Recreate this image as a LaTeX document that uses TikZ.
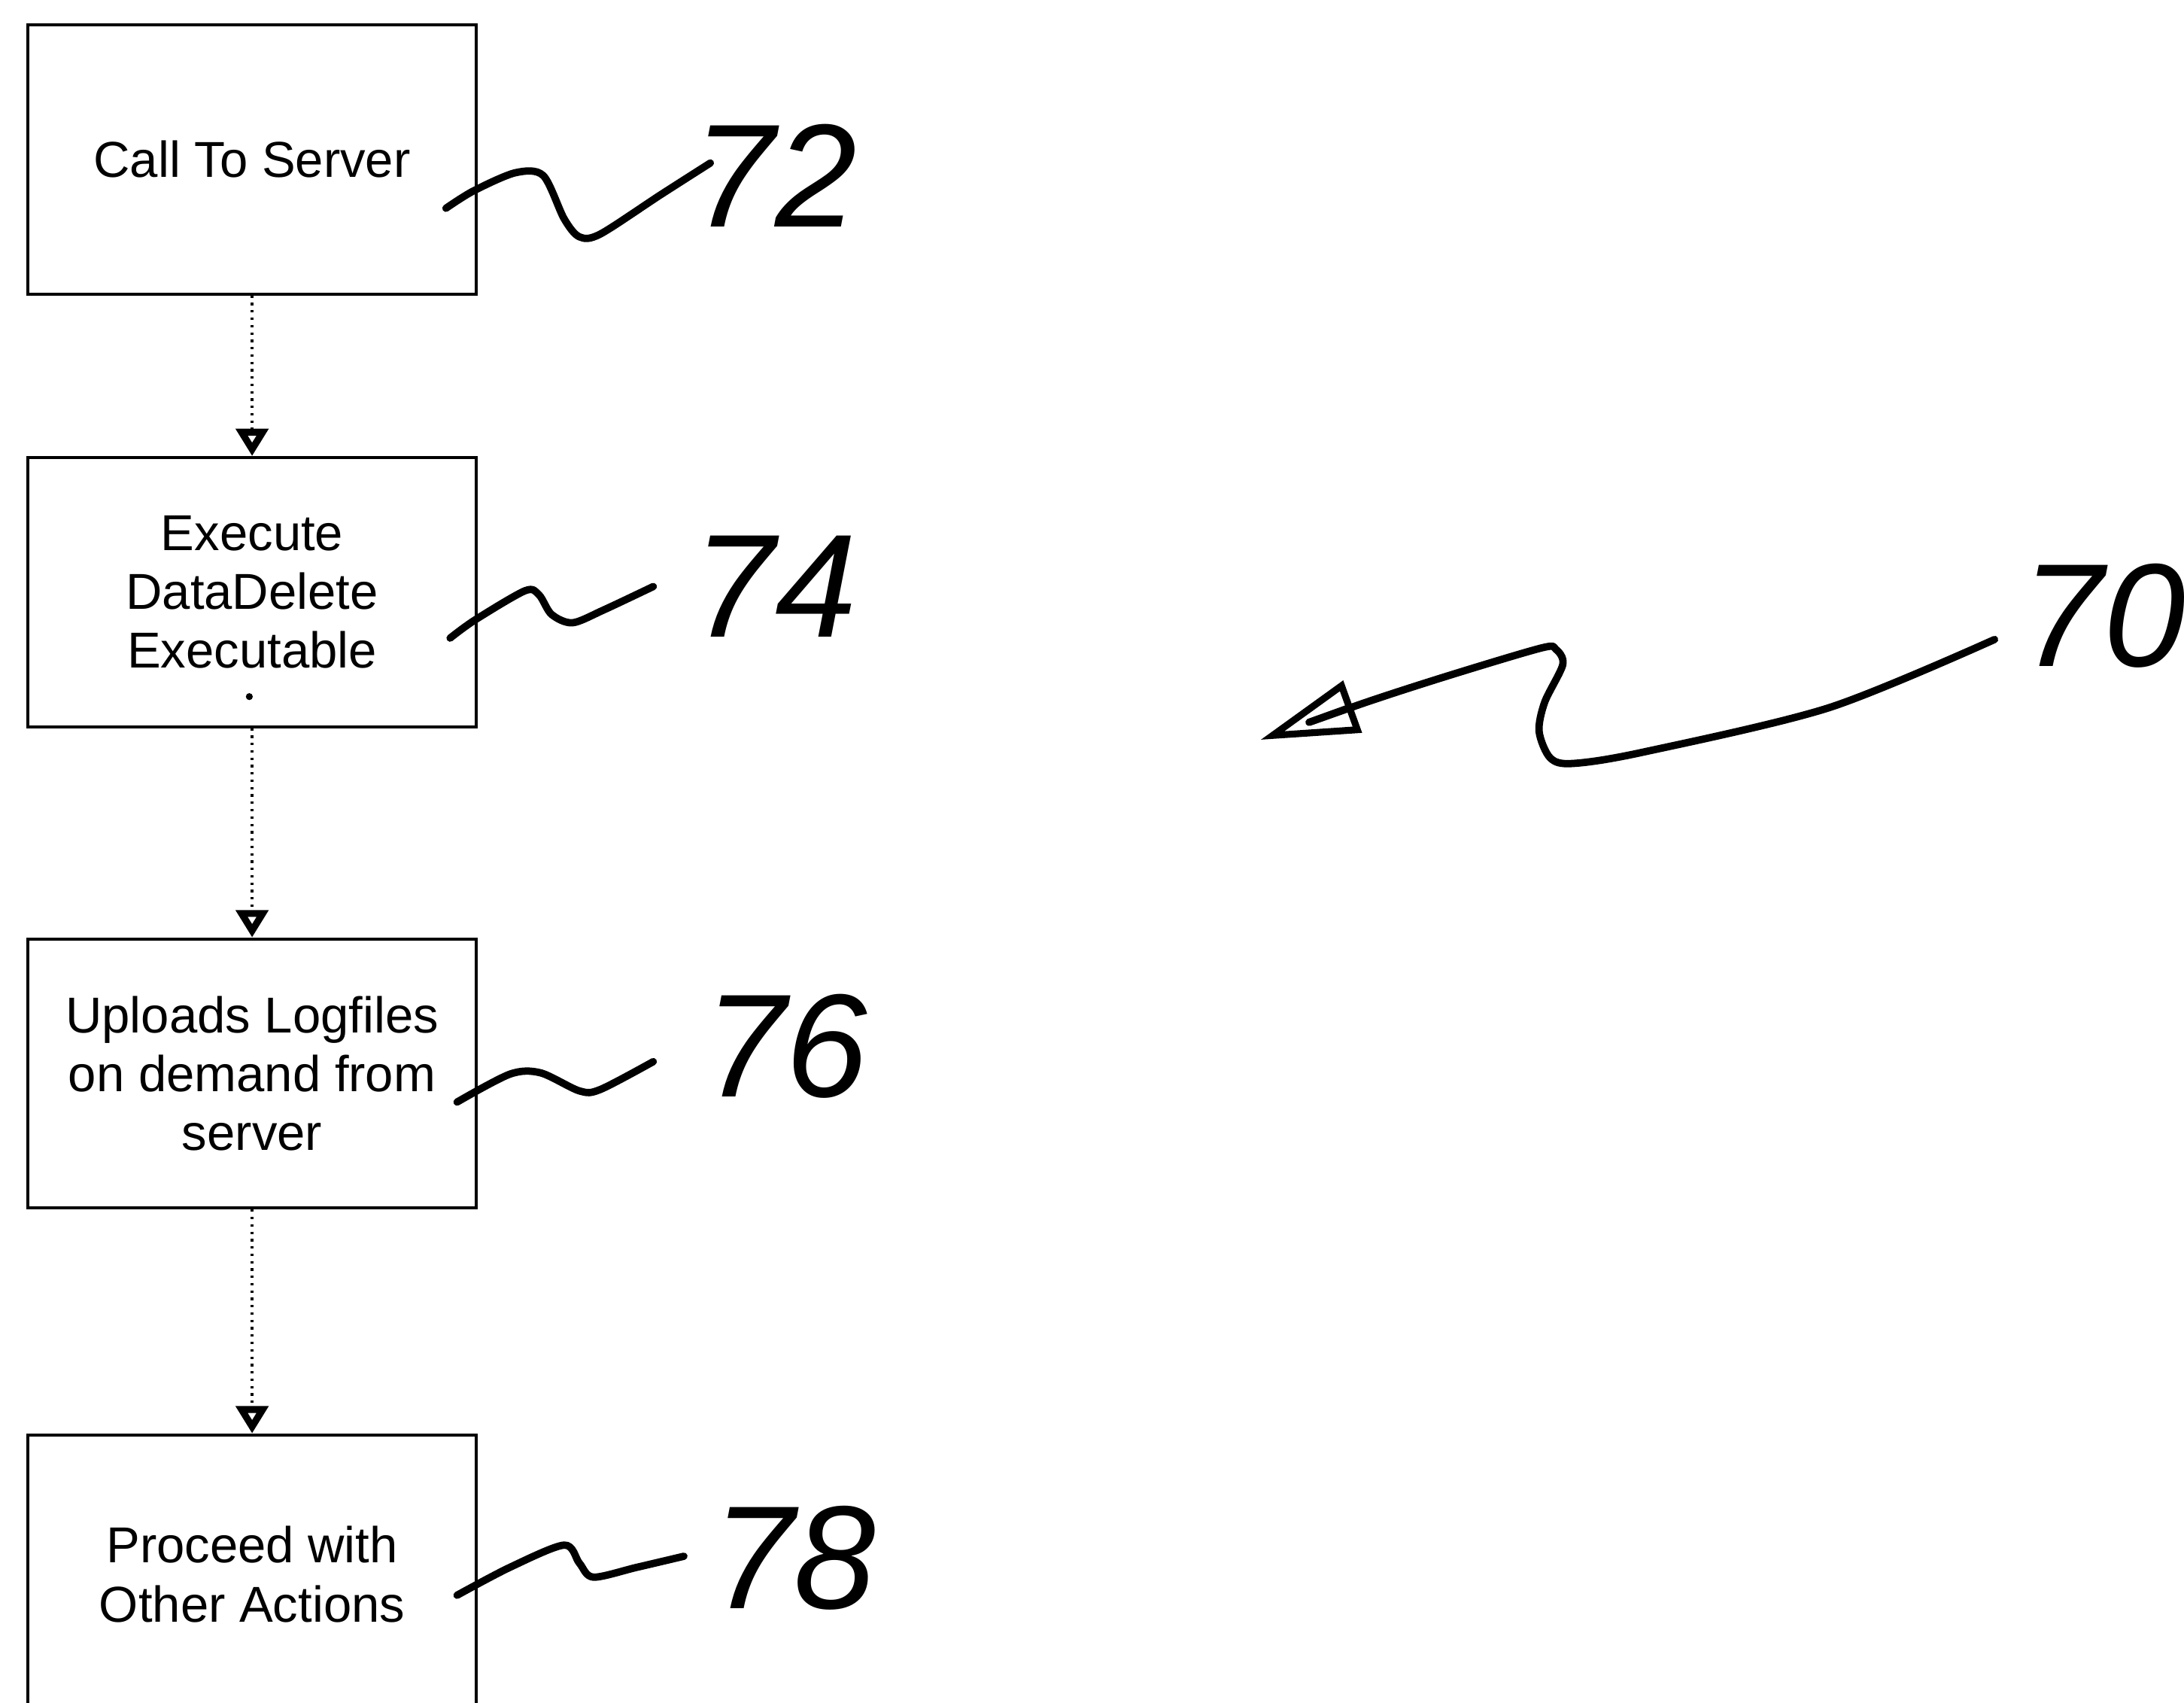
\documentclass[tikz,border=0pt]{standalone}
\usepackage{fontspec}
\setmainfont{Liberation Sans}
\usetikzlibrary{arrows.meta}

\begin{document}
\begin{tikzpicture}[x=.01cm,y=-.01cm,
  box/.style={draw,line width=.6pt,minimum width=3.22cm,minimum height=1.93cm,
    inner sep=0pt,align=center,font=\fontsize{10.3}{12}\selectfont},
  flow/.style={densely dotted,line width=.5pt,
    -{Triangle[open,length=5.6pt,width=6.4pt,line width=1.6pt]}},
  lead/.style={line width=1.5pt,line cap=round,line join=round},
  refnum/.style={anchor=west,inner sep=0pt,font=\fontsize{30}{30}\selectfont\itshape}]
 \useasboundingbox (0,0) rectangle (1568,1222);
 \node[box] (call) at (181,114.5) {Call To Server};
 \node[box] (exec) at (181,425) {Execute\\DataDelete\\Executable};
 \node[box] (upload) at (181,770.5) {Uploads Logfiles\\on demand from\\server};
 \node[box,minimum height=2cm] (proceed) at (181,1130) {Proceed with\\Other Actions};
 \fill (179,500) circle[radius=2.5];
 \draw[flow] (call) -- (exec);
 \draw[flow] (exec) -- (upload);
 \draw[flow] (upload) -- (proceed);
 \node[refnum] (n72) at (497,126) {72};
 \node[refnum] (n74) at (497,421) {74};
 \node[refnum] (n76) at (505,751) {76};
 \node[refnum] (n78) at (511,1118) {78};
 \node[refnum] (n70) at (1451,442) {70};
 \coordinate (tip70) at (905,531);
 \draw[lead] plot[smooth,tension=.5] coordinates {([shift={(-23,35)}]call.east)
   (340,137) (370,124) (390,126) (405,157) (416,170) (431,168) (474,140)
   ([shift={(13,-9)}]n72.west)};
 \draw[lead] plot[smooth,tension=.5] coordinates {([shift={(-20,33)}]exec.east)
   (341,445) (377,424) (387,427) (396,441) (411,447) (433,438)
   ([shift={(-28,0)}]n74.west)};
 \draw[lead] plot[smooth,tension=.5] coordinates {([shift={(-15,20.5)}]upload.east)
   (366,771) (388,770) (416,783) (431,782) ([shift={(-36,11)}]n76.west)};
 \draw[lead] plot[smooth,tension=.5] coordinates {([shift={(-15,15)}]proceed.east)
   (366,1125) (405,1109) (416,1122) (426,1132) (457,1125)
   ([shift={(-20,-1)}]n78.west)};
 \draw[lead,-{Triangle[open,length=20pt,width=11pt,line width=1.4pt]}]
   plot[smooth,tension=.5] coordinates {([shift={(-19,17)}]n70.west)
   (1313,508) (1179,540) (1129,548) (1113,544) (1105,525) (1109,504)
   (1122,477) (1117,466) (1107,465) (1043,484) (981,504) (tip70)};
\end{tikzpicture}
\end{document}
